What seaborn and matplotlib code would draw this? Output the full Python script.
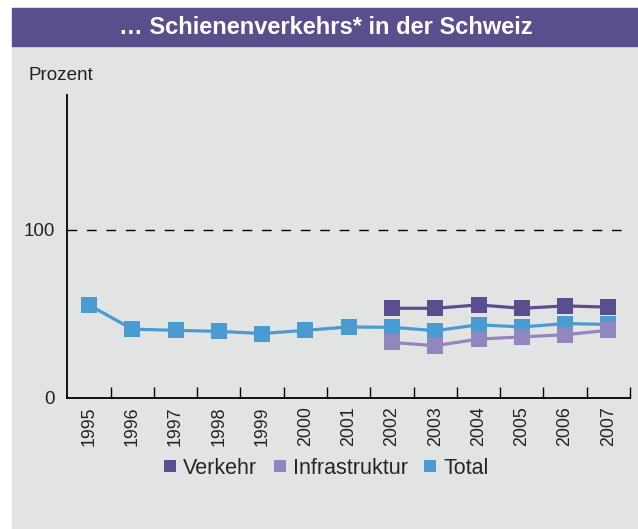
import matplotlib
matplotlib.use("Agg")
import matplotlib.pyplot as plt
from matplotlib.patches import Rectangle
from matplotlib.lines import Line2D
import seaborn as sns
import pandas as pd

jahre = ["1995", "1996", "1997", "1998", "1999", "2000", "2001",
         "2002", "2003", "2004", "2005", "2006", "2007"]
total = [55.3, 40.9, 40.2, 39.6, 38.3, 40.2, 42.2, 42.0, 40.0, 43.5, 42.2, 44.2, 43.7]
verkehr_jahre = ["2002", "2003", "2004", "2005", "2006", "2007"]
verkehr = [53.3, 53.3, 55.3, 53.3, 54.7, 54.0]
infrastruktur = [33.0, 31.1, 35.0, 36.3, 37.6, 40.2]

farben = {"Verkehr": "#5a4e8e", "Infrastruktur": "#9186bd", "Total": "#4a9bd2"}
grau = "#e2e4e3"

sns.set_style("white")
plt.rcParams["font.family"] = ["Liberation Sans", "DejaVu Sans"]

pos = {j: i for i, j in enumerate(jahre)}
df_total = pd.DataFrame({"x": [pos[j] for j in jahre], "y": total})
df_verkehr = pd.DataFrame({"x": [pos[j] for j in verkehr_jahre], "y": verkehr})
df_infra = pd.DataFrame({"x": [pos[j] for j in verkehr_jahre], "y": infrastruktur})

fig = plt.figure(figsize=(6.38, 5.29), dpi=100)
fig.patch.set_facecolor("white")
# grauer Hintergrund und violetter Titelbalken
fig.patches.append(Rectangle((12 / 638, 0), 626 / 638, 1 - 46 / 529,
                             transform=fig.transFigure, color=grau, zorder=-10))
fig.patches.append(Rectangle((12 / 638, 1 - 46 / 529), 626 / 638, 38 / 529,
                             transform=fig.transFigure, color="#5a4e8c", zorder=-10))
fig.text(326 / 638, 1 - 27 / 529, "\u2026 Schienenverkehrs* in der Schweiz",
         color="white", fontsize=17, fontweight="bold", ha="center", va="center")

ax = fig.add_axes([67.3 / 638, 1 - 398 / 529, (630 - 67.3) / 638, (398 - 95) / 529])
ax.set_facecolor("none")

ax.axhline(100, color="black", lw=1, ls=(0, (7, 7)), zorder=1)

sns.lineplot(data=df_total, x="x", y="y", ax=ax, color=farben["Total"], lw=2.3,
             marker="s", markersize=11.5, markeredgewidth=0, zorder=3)
sns.lineplot(data=df_verkehr, x="x", y="y", ax=ax, color=farben["Verkehr"], lw=2.3,
             marker="s", markersize=11.5, markeredgewidth=0, zorder=3)
sns.lineplot(data=df_infra, x="x", y="y", ax=ax, color=farben["Infrastruktur"], lw=2.3,
             marker="s", markersize=11.5, markeredgewidth=0, zorder=4)

ax.set_xlim(-0.5, len(jahre) - 0.5)
ax.set_ylim(0, 180)
ax.set_xlabel("")
ax.set_ylabel("")

ax.set_xticks(range(len(jahre)))
ax.set_xticklabels(jahre, rotation=90, fontsize=12.8, color="#222222")
ax.set_xticks([i + 0.5 for i in range(len(jahre))], minor=True)
ax.tick_params(axis="x", which="major", bottom=True, length=0, pad=6)
ax.tick_params(axis="x", which="minor", bottom=True, direction="in", length=8,
               width=1, color="black")
ax.set_yticks([0, 100])
ax.set_yticklabels(["0", "100"], fontsize=13.5, color="#222222")
ax.tick_params(axis="y", length=0, pad=9)

for s in ["top", "right"]:
    ax.spines[s].set_visible(False)
for s in ["left", "bottom"]:
    ax.spines[s].set_color("black")
    ax.spines[s].set_linewidth(1.3)

fig.text(28 / 638, 1 - 75 / 529, "Prozent", fontsize=13.6, color="#222222", va="center")

handles = [Line2D([], [], ls="none", marker="s", markersize=9, markeredgewidth=0,
                  color=farben[k]) for k in ["Verkehr", "Infrastruktur", "Total"]]
fig.legend(handles, ["Verkehr", "Infrastruktur", "Total"], loc="center",
           bbox_to_anchor=(326 / 638, 1 - 468 / 529), ncol=3, frameon=False,
           fontsize=15.5, handlelength=0.6, handletextpad=0.3, columnspacing=0.75)

fig.savefig("out.png", dpi=100, facecolor=fig.get_facecolor())
